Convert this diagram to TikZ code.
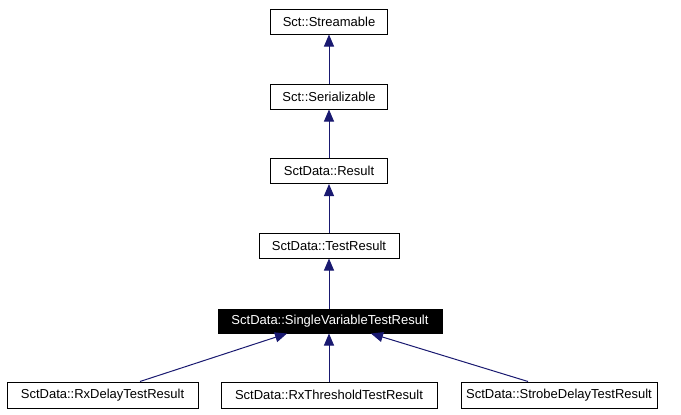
\documentclass[tikz,border=0pt]{standalone}
\usepackage{fontspec}
\setmainfont{Liberation Sans}
\usetikzlibrary{arrows.meta}
\definecolor{edgeblue}{HTML}{191970}
\begin{document}
\begin{tikzpicture}[x=1pt,y=-1pt,
  cls/.style={draw=black,line width=1pt,fill=white,inner sep=0pt,font=\fontsize{13}{15}\selectfont,minimum height=25pt},
  cur/.style={cls,fill=black,text=white},
  inh/.style={draw=edgeblue,line width=1pt,-{Triangle[length=12pt,width=10pt]},color=edgeblue},
]
\useasboundingbox (0,0) rectangle (681,415);
\node[cls,minimum width=117pt] (stream) at (329,21.5) {Sct::Streamable};
\node[cls,minimum width=117pt] (ser) at (329,96.5) {Sct::Serializable};
\node[cls,minimum width=117pt] (res) at (329,171) {SctData::Result};
\node[cls,minimum width=140pt] (tres) at (329,245.5) {SctData::TestResult};
\node[cur,minimum width=224pt,minimum height=24pt] (sv) at (330,321) {SctData::SingleVariableTestResult};
\node[cls,minimum width=191pt,minimum height=26pt] (rxd) at (102.5,395) {SctData::RxDelayTestResult};
\node[cls,minimum width=216pt,minimum height=26pt] (rxt) at (329,395) {SctData::RxThresholdTestResult};
\node[cls,minimum width=196pt,minimum height=26pt] (sdt) at (559,395) {SctData::StrobeDelayTestResult};
\draw[inh] (ser.north) -- (stream.south);
\draw[inh] (res.north) -- (ser.south);
\draw[inh] (tres.north) -- (res.south);
\draw[inh] (sv.north -| tres.south) -- (tres.south);
\draw[inh] (rxt.north) -- (sv.south -| rxt.north);
\draw[inh] ([xshift=37.5pt]rxd.north) -- ([xshift=-43pt]sv.south);
\draw[inh] ([xshift=-31pt]sdt.north) -- ([xshift=41pt]sv.south);
\end{tikzpicture}
\end{document}
